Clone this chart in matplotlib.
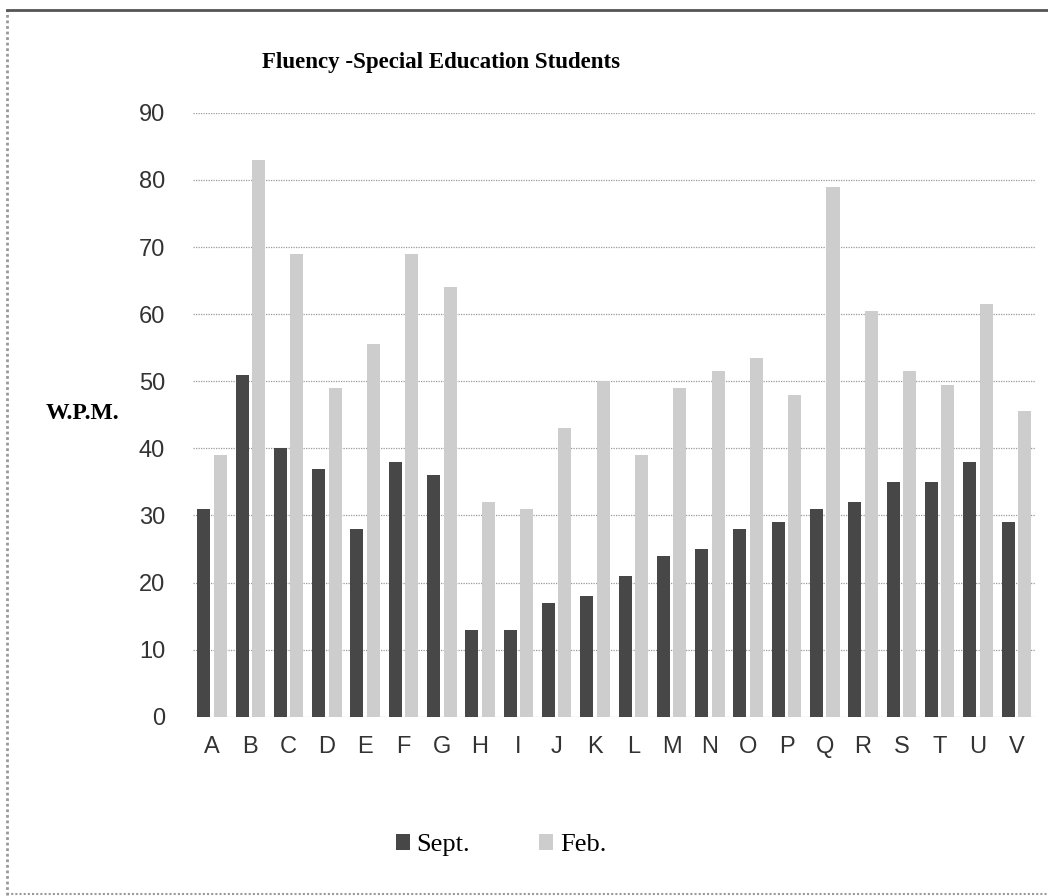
import matplotlib
matplotlib.use("Agg")
import matplotlib.pyplot as plt
import numpy as np
from matplotlib.lines import Line2D
from matplotlib.patches import Patch

students = list("ABCDEFGHIJKLMNOPQRSTUV")
sept = [31, 51, 40, 37, 28, 38, 36, 13, 13, 17, 18, 21, 24, 25, 28, 29, 31, 32, 35, 35, 38, 29]
feb = [39, 83, 69, 49, 55.5, 69, 64, 32, 31, 43, 50, 39, 49, 51.5, 53.5, 48, 79, 60.5, 51.5, 49.5, 61.5, 45.5]
yticks = [0, 10, 20, 30, 40, 50, 60, 70, 80, 90]

serif = ["Liberation Serif", "DejaVu Serif"]
narrow = ["Liberation Sans Narrow", "Liberation Sans", "DejaVu Sans"]

fig = plt.figure(figsize=(10.48, 8.96), dpi=100)
ax = fig.add_axes([0.184, 0.2, 0.804, 0.674])

x = np.arange(len(students))
w = 0.34
ax.bar(x - 0.215, sept, width=w, color="#474747", zorder=3, label="Sept.")
ax.bar(x + 0.215, feb, width=w, color="#cdcdcd", zorder=3, label="Feb.")

ax.set_xlim(-0.5, len(students) - 0.5)
ax.set_ylim(0, 90)
ax.set_yticks(yticks)
ax.set_xticks(x)
ax.set_xticklabels(students)
for s in ax.spines.values():
    s.set_visible(False)
ax.tick_params(length=0, labelsize=17, labelcolor="#333333")
ax.tick_params(axis="y", pad=20)
ax.tick_params(axis="x", pad=14)
for lab in ax.get_xticklabels() + ax.get_yticklabels():
    lab.set_family(narrow)
ax.grid(axis="y", color="#9a9a9a", linestyle=(0, (1, 1)), linewidth=0.9, zorder=0)

fig.text(0.421, 0.93, "Fluency -Special Education Students", ha="center", va="center",
         fontsize=16.5, fontweight="bold", family=serif)
fig.text(0.079, 0.539, "W.P.M.", ha="center", va="center", fontsize=17,
         fontweight="bold", family=serif)

handles = [Patch(facecolor="#474747"), Patch(facecolor="#cdcdcd")]
fig.legend(handles, ["Sept.", "Feb."], loc="center", bbox_to_anchor=(0.478, 0.057),
           ncol=2, frameon=False, prop={"family": serif, "size": 19},
           handlelength=0.55, handleheight=0.55, handletextpad=0.25, columnspacing=2.6)

# outer frame (left, top, bottom)
fig.add_artist(Line2D([0.007, 0.007], [0.001, 0.989], transform=fig.transFigure,
                      color="#999999", linewidth=2, linestyle=(0, (1, 1))))
fig.add_artist(Line2D([0.007, 1.0], [0.989, 0.989], transform=fig.transFigure,
                      color="#555555", linewidth=2))
fig.add_artist(Line2D([0.007, 1.0], [0.002, 0.002], transform=fig.transFigure,
                      color="#999999", linewidth=1.5, linestyle=(0, (1, 1))))

fig.savefig("out.png", dpi=100)
